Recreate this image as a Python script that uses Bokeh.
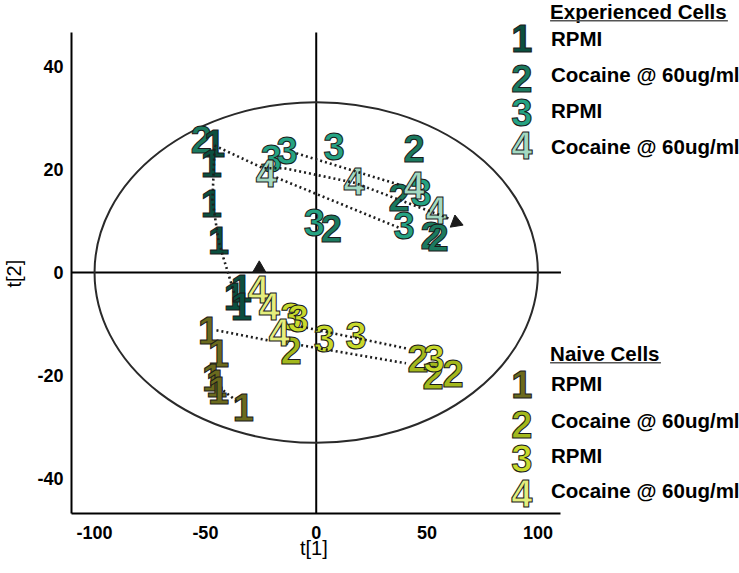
import math
from bokeh.plotting import figure
from bokeh.models import FixedTicker, ColumnDataSource
from bokeh.core.properties import value
from bokeh.embed import file_html
from bokeh.resources import INLINE

# ---------------- data ----------------
# Experienced cells (t[1], t[2]) per condition
exp1_x = [-45.9, -47.3, -47.3, -44.1, -36.9, -33.8, -33.8]
exp1_y = [25.0, 21.1, 13.4, 6.2, -4.7, -3.1, -6.6]
exp2_x = [-51.8, 44.1, 6.8, 37.4, 51.8, 55.0]
exp2_y = [25.8, 24.0, 8.5, 14.5, 7.2, 6.8]
exp3_x = [-20.3, -13.1, 8.1, -0.9, 47.3, 39.6]
exp3_y = [22.1, 23.6, 24.4, 9.7, 15.5, 9.1]
exp4_x = [-22.5, 17.1, 44.1, 54.1]
exp4_y = [19.2, 17.6, 16.9, 12.0]

# Naive cells
nai1_x = [-48.6, -44.1, -46.8, -45.0, -44.1, -32.9]
nai1_y = [-11.2, -15.7, -20.3, -21.5, -22.9, -26.2]
nai2_x = [-11.3, 45.9, 52.7, 61.7]
nai2_y = [-15.1, -16.7, -20.0, -19.6]
nai3_x = [-11.3, -8.1, 3.6, 18.0, 53.2]
nai3_y = [-8.5, -8.9, -12.8, -12.2, -16.7]
nai4_x = [-26.1, -21.2, -16.7]
nai4_y = [-3.3, -6.6, -11.6]

# dotted trajectories
traj_xs = [
    [-45.9, -46.8, -44.1, -41.9, -36.9],
    [-9.0, 38.3],
    [-45.9, -23.9, -14.4, 17.1, 60.8],
    [-18.0, 38.3],
    [-45.0, -21.2],
    [-6.8, 40.5],
    [-6.8, 40.5],
    [-41.9, -35.1],
]
traj_ys = [
    [24.0, 14.0, 6.2, 2.9, -4.1],
    [23.1, 16.9],
    [24.6, 20.2, 20.2, 17.4, 10.3],
    [18.4, 8.5],
    [-11.2, -13.2],
    [-10.5, -14.7],
    [-14.1, -17.6],
    [-22.9, -25.2],
]
arrow_x = [63.1, -25.7]
arrow_y = [9.7, 0.8]
arrow_angle_deg = [-111, 0]

# Hotelling ellipse
ell_w = 200
ell_h = 66

x_ticks = [-100, -50, 0, 50, 100]
y_ticks = [-40, -20, 0, 20, 40]
x_title = "t[1]"
y_title = "t[2]"

exp_colors = ["#0b4f3f", "#1b7a5f", "#25a383", "#a3d9c1"]
nai_colors = ["#6b6a1d", "#a3b81c", "#c8da2c", "#e4ee7c"]
exp_labels = ["RPMI", "Cocaine @ 60ug/ml", "RPMI", "Cocaine @ 60ug/ml"]
nai_labels = ["RPMI", "Cocaine @ 60ug/ml", "RPMI", "Cocaine @ 60ug/ml"]
exp_title = "Experienced Cells"
nai_title = "Naive Cells"

# legend placement (layout)
leg_num_x = 92.8
leg_txt_x = 105.9
exp_num_y = [45.3, 37.6, 31.0, 24.6]
exp_txt_y = [45.3, 38.4, 31.4, 24.4]
nai_num_y = [-21.7, -29.5, -36.0, -42.8]
nai_txt_y = [-21.5, -28.7, -35.5, -42.2]
exp_title_y = 50.5
nai_title_y = -15.7
exp_ul = (105.5, 185.7, 48.8)
nai_ul = (105.5, 155.5, -17.5)

X_MIN, X_MAX = -110.4, 190.95
Y_MIN, Y_MAX = -46.71, 52.71
XB = (-110.4, 110.4)
YB = (-46.7, 46.5)

FONT = "Liberation Sans"
NUM_SIZE = "38px"
OUT = "#1a1a1a"
NBSP = "\u00a0"

p = figure(width=739, height=573, x_range=(X_MIN, X_MAX), y_range=(Y_MIN, Y_MAX),
           output_backend="svg", toolbar_location=None,
           min_border_left=70, min_border_top=0, min_border_right=0, min_border_bottom=60)
p.grid.visible = False
p.outline_line_color = None
p.background_fill_color = "white"

p.axis.axis_line_width = 2
p.axis.axis_line_color = "black"
p.axis.major_tick_line_color = None
p.axis.minor_tick_line_color = None
p.axis.major_tick_out = 0
p.axis.major_tick_in = 0
p.axis.minor_tick_out = 0
p.axis.minor_tick_in = 0
p.axis.major_label_text_font = FONT
p.axis.major_label_text_font_style = "bold"
p.axis.major_label_text_font_size = "18px"
p.axis.major_label_text_color = "black"
p.axis.axis_label_text_font = FONT
p.axis.axis_label_text_font_style = "normal"
p.axis.axis_label_text_font_size = "20px"
p.axis.axis_label_text_color = "black"
p.xaxis.major_label_standoff = 12
p.yaxis.major_label_standoff = 8
p.xaxis.bounds = XB
p.yaxis.bounds = YB
p.xaxis.ticker = FixedTicker(ticks=x_ticks)
p.yaxis.ticker = FixedTicker(ticks=y_ticks)
p.xaxis.major_label_overrides = {t: str(t) for t in x_ticks}
p.yaxis.major_label_overrides = {t: str(t) for t in y_ticks}
# axis titles: padded with no-break spaces so that they sit centred on the
# bounded axes (the frame itself extends to the right over the legend area)
p.xaxis.axis_label = x_title + NBSP * 33
p.yaxis.axis_label = y_title + NBSP * 6
p.xaxis.axis_label_standoff = -5
p.yaxis.axis_label_standoff = 9

# zero lines
p.segment(x0=[XB[0], 0], y0=[0, YB[0]], x1=[XB[1], 0], y1=[0, YB[1]],
          line_color="black", line_width=2)
# ellipse
p.ellipse(x=[0], y=[0], width=[ell_w], height=[ell_h], fill_color=None,
          line_color="#2a2a2a", line_width=2)


def nums(xs, ys, digit, color):
    src = ColumnDataSource(dict(x=xs, y=ys, t=[digit] * len(xs)))
    p.text(x="x", y="y", text="t", source=src, text_font=value(FONT),
           text_font_style="bold", text_font_size=NUM_SIZE, text_color=color,
           text_outline_color=OUT, text_align="center", text_baseline="middle")


nums(nai1_x, nai1_y, "1", nai_colors[0])
nums(nai2_x, nai2_y, "2", nai_colors[1])
nums(nai3_x, nai3_y, "3", nai_colors[2])
nums(nai4_x, nai4_y, "4", nai_colors[3])
nums(exp2_x, exp2_y, "2", exp_colors[1])
nums(exp1_x, exp1_y, "1", exp_colors[0])
nums(exp3_x, exp3_y, "3", exp_colors[2])
nums(exp4_x, exp4_y, "4", exp_colors[3])

p.multi_line(xs=traj_xs, ys=traj_ys, line_color="#1e1e1e", line_width=2.6, line_dash="2 3")
p.scatter(x=arrow_x, y=arrow_y, marker="triangle", size=13,
          angle=[math.radians(a) for a in arrow_angle_deg],
          fill_color="#1a1a1a", line_color="#1a1a1a")

# legends
for i in range(4):
    nums([leg_num_x], [exp_num_y[i]], str(i + 1), exp_colors[i])
    nums([leg_num_x], [nai_num_y[i]], str(i + 1), nai_colors[i])
txt_kw = dict(text_font=value(FONT), text_font_style="bold", text_font_size="20.5px",
              text_color="black", text_baseline="middle")
p.text(x=[leg_txt_x] * 4, y=exp_txt_y, text=exp_labels, **txt_kw)
p.text(x=[leg_txt_x] * 4, y=nai_txt_y, text=nai_labels, **txt_kw)
p.text(x=[leg_txt_x - 0.4, leg_txt_x - 0.4], y=[exp_title_y, nai_title_y],
       text=[exp_title, nai_title], **txt_kw)
p.segment(x0=[exp_ul[0], nai_ul[0]], y0=[exp_ul[2], nai_ul[2]],
          x1=[exp_ul[1], nai_ul[1]], y1=[exp_ul[2], nai_ul[2]],
          line_color="#555555", line_width=1.5)

open("out.html", "w").write(file_html(p, INLINE))
